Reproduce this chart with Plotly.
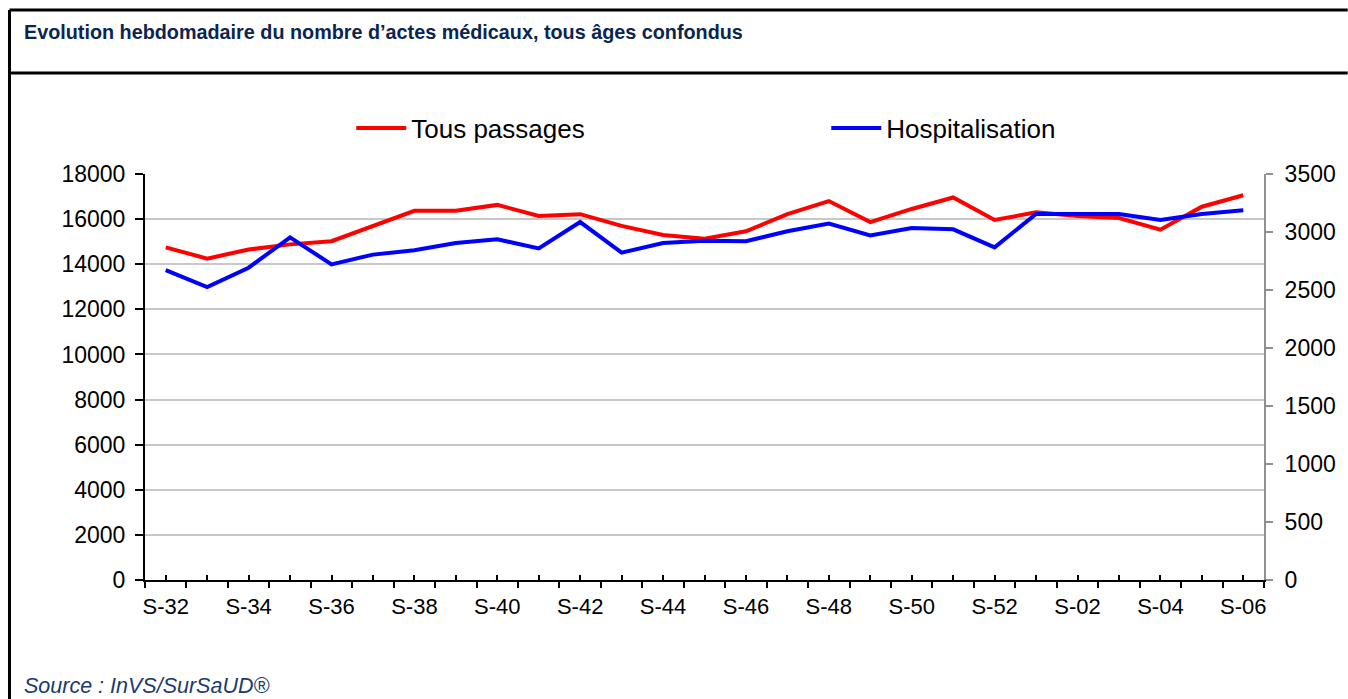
import plotly.graph_objects as go

weeks = ["S-32", "S-33", "S-34", "S-35", "S-36", "S-37", "S-38", "S-39", "S-40", "S-41",
         "S-42", "S-43", "S-44", "S-45", "S-46", "S-47", "S-48", "S-49", "S-50", "S-51",
         "S-52", "S-01", "S-02", "S-03", "S-04", "S-05", "S-06"]
tous_passages = [14750, 14250, 14650, 14880, 15020, 15700, 16370, 16370, 16630, 16140,
                 16220, 15700, 15300, 15130, 15460, 16220, 16800, 15870, 16450, 16960,
                 15960, 16300, 16140, 16050, 15530, 16550, 17060]
hospitalisation = [2672, 2526, 2692, 2954, 2721, 2805, 2842, 2905, 2937, 2859,
                   3086, 2822, 2905, 2925, 2920, 3006, 3072, 2971, 3035, 3023,
                   2868, 3155, 3155, 3155, 3103, 3155, 3187]
tick_labels = [w if i % 2 == 0 else "" for i, w in enumerate(weeks)]

title_text = "Evolution hebdomadaire du nombre d\u2019actes médicaux, tous âges confondus"
source_text = "Source : InVS/SurSaUD®"

FONT = "Liberation Sans, Arial, sans-serif"
W, H = 1348, 699
L, R, T, B = 145, 80, 174, 119

fig = go.Figure()
fig.add_trace(go.Scatter(x=weeks, y=tous_passages, name="Tous passages", mode="lines",
                         line=dict(color="#ff0000", width=4), xaxis="x", yaxis="y"))
fig.add_trace(go.Scatter(x=weeks, y=hospitalisation, name="Hospitalisation", mode="lines",
                         line=dict(color="#0000ff", width=4), xaxis="x2", yaxis="y2"))


def px_x(x):
    return (x - L) / (W - L - R)


def px_y(y):
    return (H - B - y) / (H - T - B)


fig.update_layout(
    width=W, height=H,
    margin=dict(l=L, r=R, t=T, b=B),
    paper_bgcolor="white", plot_bgcolor="white",
    font=dict(family=FONT, color="black", size=22),
    showlegend=True,
    legend=dict(orientation="h", x=px_x(352), xanchor="left", y=px_y(128), yref="paper",
                yanchor="middle", font=dict(size=26), entrywidth=410,
                itemwidth=50, bgcolor="rgba(0,0,0,0)"),
    xaxis=dict(type="category", categoryorder="array", categoryarray=weeks,
               range=[-0.5, 26.5], tickmode="array", tickvals=weeks, ticktext=tick_labels,
               tickson="boundaries", ticks="outside", ticklen=6, tickwidth=1.5, tickcolor="black",
               showline=True, linecolor="black", linewidth=2, showgrid=False, tickangle=0,
               tickfont=dict(size=22), zeroline=False, ticklabelstandoff=6),
    xaxis2=dict(type="category", categoryorder="array", categoryarray=weeks,
                overlaying="x", anchor="y", side="bottom", matches="x",
                range=[-0.5, 26.5], tickmode="array", tickvals=weeks,
                ticks="inside", ticklen=5, tickwidth=1.5, tickcolor="black",
                showticklabels=False, showline=False, showgrid=False, zeroline=False),
    yaxis=dict(range=[0, 18000], tickmode="linear", tick0=0, dtick=2000, tickformat="d",
               ticks="outside", ticklen=8, tickwidth=1.5, tickcolor="black",
               showline=True, linecolor="black", linewidth=2,
               showgrid=True, gridcolor="#c8c8c8", gridwidth=2, zeroline=False,
               tickfont=dict(size=23), ticklabelstandoff=5),
    yaxis2=dict(range=[0, 3500], tickmode="linear", tick0=0, dtick=500, tickformat="d",
                overlaying="y", side="right", anchor="x",
                ticks="outside", ticklen=7, tickwidth=1.5, tickcolor="#909090",
                showline=True, linecolor="#909090", linewidth=2,
                showgrid=False, zeroline=False, tickfont=dict(size=23), ticklabelstandoff=7),
)

# frame lines
frame = dict(type="line", xref="paper", yref="paper", line=dict(color="black", width=3))
fig.add_shape(**frame, x0=px_x(9), x1=px_x(1352), y0=px_y(10), y1=px_y(10))
fig.add_shape(**frame, x0=px_x(9), x1=px_x(1352), y0=px_y(73), y1=px_y(73))
fig.add_shape(**frame, x0=px_x(9), x1=px_x(9), y0=px_y(10), y1=px_y(704))

fig.add_annotation(text="<b>" + title_text + "</b>", xref="paper", yref="paper",
                   x=px_x(22), y=px_y(32), xanchor="left", yanchor="middle", showarrow=False,
                   font=dict(size=19.8, color="#0b2550", family=FONT))
fig.add_annotation(text="<i>" + source_text + "</i>", xref="paper", yref="paper",
                   x=px_x(22), y=px_y(686), xanchor="left", yanchor="middle", showarrow=False,
                   font=dict(size=21.5, color="#1c3a6e", family=FONT))

fig.write_html("out.html", post_script="document.body.style.margin='0px';",
               config={"displayModeBar": False})
